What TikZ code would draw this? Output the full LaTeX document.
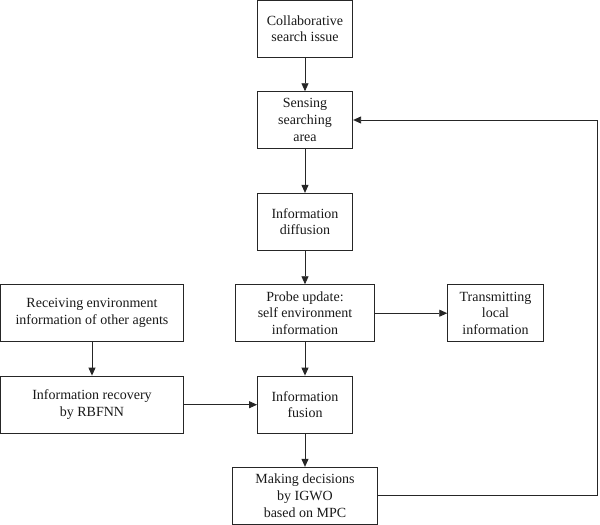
\documentclass[tikz,border=0pt]{standalone}
\usepackage{fontspec}
\setmainfont{Liberation Serif}
\usetikzlibrary{arrows.meta}
\begin{document}
\begin{tikzpicture}[x=1pt,y=-1pt,
  box/.style={draw=black!85, line width=0.9pt, align=center, inner sep=0pt,
    font=\fontsize{14}{16.7}\selectfont, text=black!90},
  arr/.style={draw=black!85, line width=0.9pt, -{Triangle[length=8pt,width=7pt]}}]
\useasboundingbox (0,0) rectangle (600,525);
\node[box, minimum width=95.4pt, minimum height=57pt] (b1) at (305,28.7) {Collaborative\\search issue};
\node[box, minimum width=95.4pt, minimum height=56.6pt] (b2) at (305,120) {Sensing\\searching\\area};
\node[box, minimum width=95.4pt, minimum height=56.7pt] (b3) at (305,221.7) {Information\\diffusion};
\node[box, minimum width=182.5pt, minimum height=57pt] (b4) at (92,313.2) {Receiving environment\\information of other agents};
\node[box, minimum width=138.6pt, minimum height=57pt] (b5) at (305,313.2) {Probe update:\\self environment\\information};
\node[box, minimum width=95.6pt, minimum height=57pt] (b6) at (495.5,313.2) {Transmitting\\local\\information};
\node[box, minimum width=182.5pt, minimum height=57.3pt] (b7) at (92,404.7) {Information recovery\\by RBFNN};
\node[box, minimum width=95pt, minimum height=57.3pt] (b8) at (305,404.7) {Information\\fusion};
\node[box, minimum width=145.4pt, minimum height=57pt] (b9) at (305,495.8) {Making decisions\\by IGWO\\based on MPC};
\coordinate (c1) at (597.7,495.8);
\coordinate (c2) at (597.7,120);
\draw[arr] (b1) -- (b2);
\draw[arr] (b2) -- (b3);
\draw[arr] (b3) -- (b5);
\draw[arr] (b5) -- (b6);
\draw[arr] (b5) -- (b8);
\draw[arr] (b4) -- (b7);
\draw[arr] (b7) -- (b8);
\draw[arr] (b8) -- (b9);
\draw[arr] (b9.east) -- (c1) -- (c2) -- (b2.east);
\end{tikzpicture}
\end{document}
